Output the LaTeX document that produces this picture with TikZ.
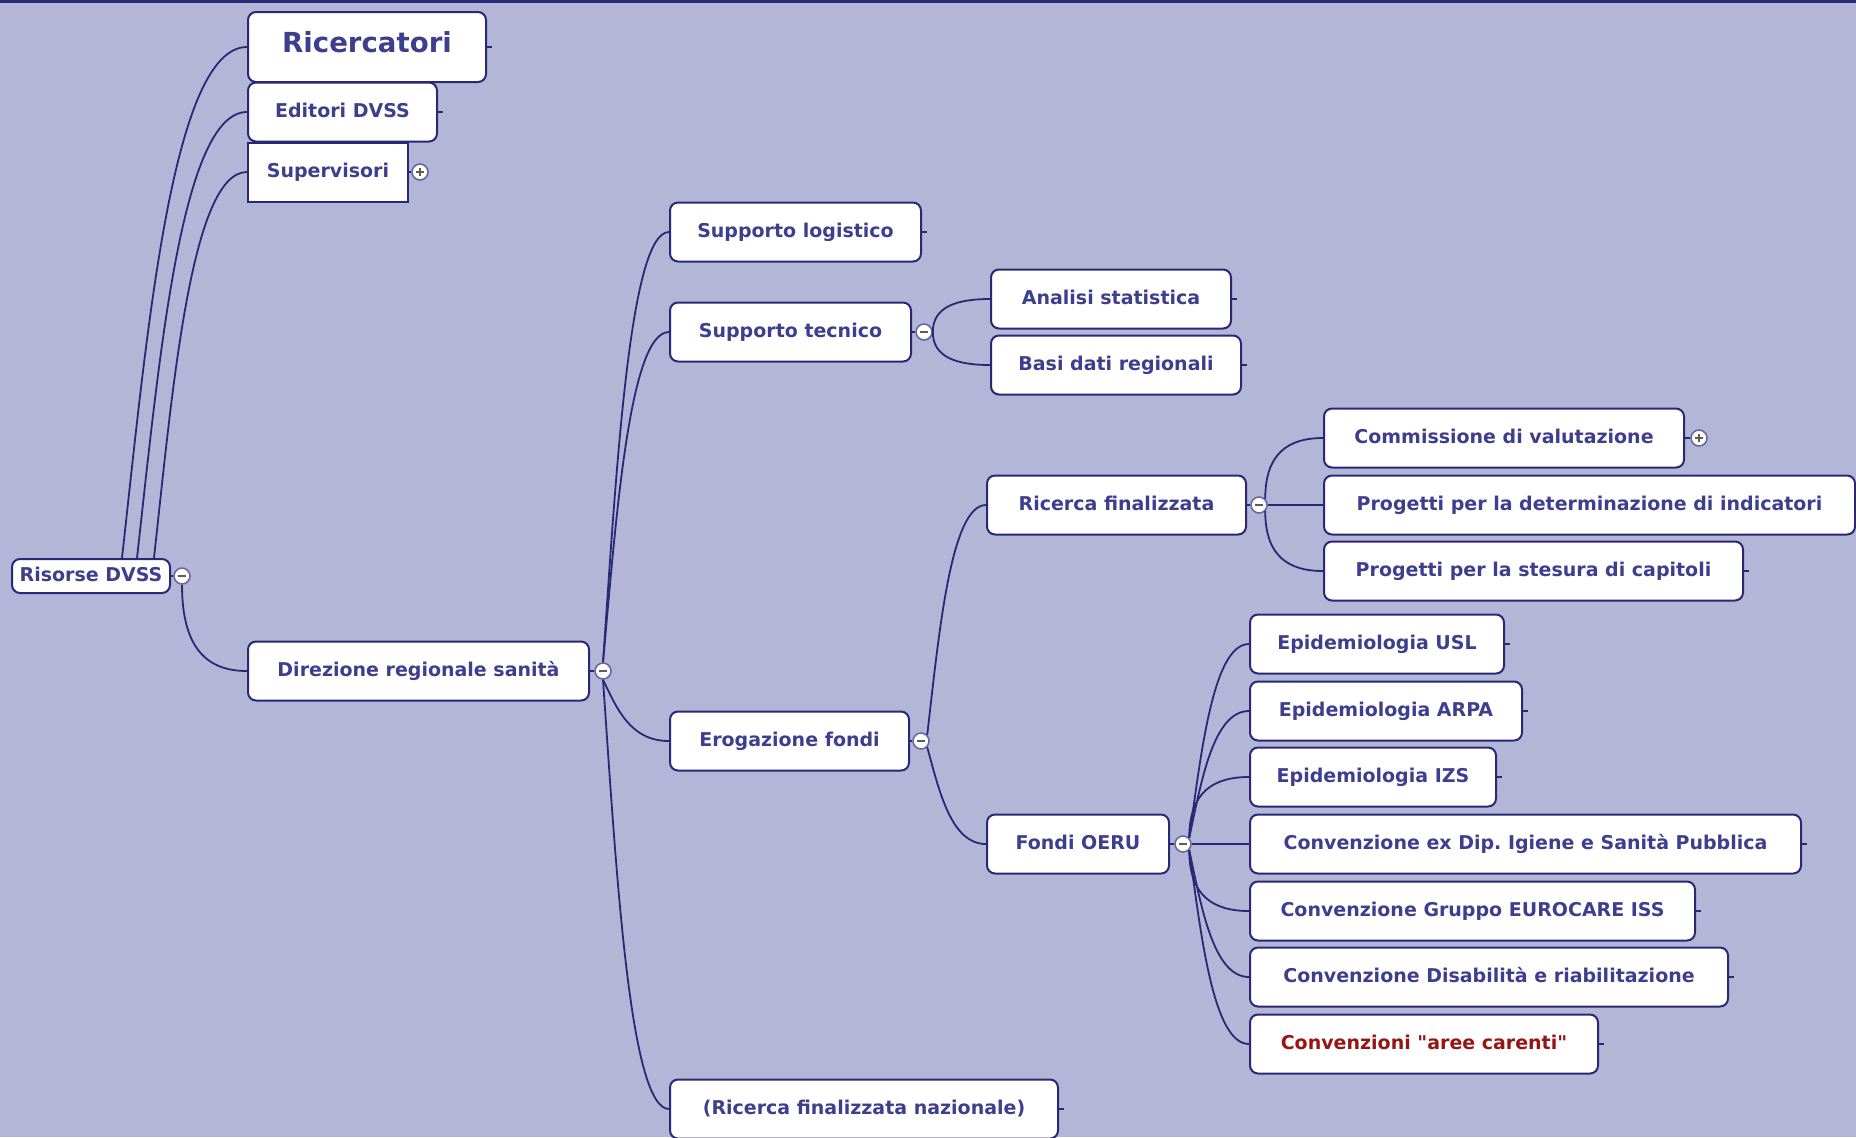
\documentclass[tikz,border=0pt]{standalone}
\usepackage{fontspec}
\setmainfont{DejaVu Sans}[Ligatures=TeXOff]
\usepackage{tikz}
\usetikzlibrary{calc}
\usetikzlibrary{positioning}

\definecolor{bgcol}{RGB}{180,182,216}
\definecolor{linecol}{RGB}{40,40,118}
\definecolor{textcol}{RGB}{62,62,142}
\definecolor{redcol}{RGB}{150,20,20}
\definecolor{signcol}{RGB}{90,96,80}

\tikzset{
  topic/.style={draw=linecol, line width=1pt, rounded corners=4pt, fill=white,
    text=textcol, font=\bfseries\fontsize{9.5}{11}\selectfont, anchor=west,
    minimum height=29.5pt, inner xsep=0pt, text height=0.73em, text depth=0.22em},
  tip/.style={circle, draw=linecol!70, line width=0.8pt, fill=white,
    inner sep=0pt, minimum size=8pt},
  minus/.style={tip, path picture={
    \draw[signcol, line width=1pt] ($(path picture bounding box.center)+(-4,0)$)
      -- ($(path picture bounding box.center)+(4,0)$);}},
  plus/.style={tip, path picture={
    \draw[signcol, line width=0.8pt] ($(path picture bounding box.center)+(-4,0)$)
      -- ($(path picture bounding box.center)+(4,0)$)
      ($(path picture bounding box.center)+(0,-4)$)
      -- ($(path picture bounding box.center)+(0,4)$);}},
  wire/.style={linecol, line width=0.9pt},
  branch/.style={to path={.. controls ($(\tikztostart)!0.75!(\tikztostart|-\tikztotarget)$)
    and ($(\tikztotarget)!0.6!(\tikztostart|-\tikztotarget)$) .. (\tikztotarget)}},
  fan/.style={to path={.. controls ($(\tikztostart)!0.3!(\tikztostart|-\tikztotarget)!0.2!(\tikztotarget)$)
    and ($(\tikztotarget)!0.6!(\tikztostart|-\tikztotarget)$) .. (\tikztotarget)}}
}

\begin{document}
\begin{tikzpicture}[x=0.5pt, y=-0.5pt]
  \useasboundingbox (0,0) rectangle (1856,1137);
  \fill[bgcol] (0,0) rectangle (1856,1137);
  \draw[linecol, line width=1.5pt] (0,1) -- (1856,1);

  % left side
  \node[topic, minimum height=17pt, minimum width=79pt] (ris) at (11,576) {Risorse DVSS};
  \node[topic, minimum height=35pt, minimum width=119pt,
    font=\bfseries\fontsize{13.8}{16}\selectfont] (ric) at (247,47) {Ricercatori};
  \node[topic, minimum width=94.5pt] (edi) at (247,112) {Editori DVSS};
  \node[topic, rounded corners=0pt, minimum width=80pt] (sup) at (247,172) {Supervisori};
  \node[topic, minimum width=170.5pt] (dir) at (247,671) {Direzione regionale sanità};

  % middle column
  \node[topic, minimum width=125.5pt] (slog) at (669,232) {Supporto logistico};
  \node[topic, minimum width=120.5pt] (stec) at (669,332) {Supporto tecnico};
  \node[topic, minimum width=119.5pt] (ero) at (669,741) {Erogazione fondi};
  \node[topic, minimum width=194pt] (rnaz) at (669,1109) {(Ricerca finalizzata nazionale)};

  \node[topic, minimum width=120pt] (ana) at (990,299) {Analisi statistica};
  \node[topic, minimum width=125pt] (basi) at (990,365) {Basi dati regionali};
  \node[topic, minimum width=129.5pt] (rfin) at (986,505) {Ricerca finalizzata};
  \node[topic, minimum width=91pt] (oeru) at (986,844) {Fondi OERU};

  % right column
  \node[topic, minimum width=180pt] (comm) at (1323,438) {Commissione di valutazione};
  \node[topic, minimum width=265.5pt] (pind) at (1323,505) {Progetti per la determinazione di indicatori};
  \node[topic, minimum width=209.5pt] (pcap) at (1323,571) {Progetti per la stesura di capitoli};

  \node[topic, minimum width=127pt] (eusl) at (1249,644) {Epidemiologia USL};
  \node[topic, minimum width=136pt] (earpa) at (1249,711) {Epidemiologia ARPA};
  \node[topic, minimum width=123pt] (eizs) at (1249,777) {Epidemiologia IZS};
  \node[topic, minimum width=275.5pt] (cdip) at (1249,844) {Convenzione ex Dip.\ Igiene e Sanità Pubblica};
  \node[topic, minimum width=222.5pt] (ceuro) at (1249,911) {Convenzione Gruppo EUROCARE ISS};
  \node[topic, minimum width=239pt] (cdis) at (1249,977) {Convenzione Disabilità e riabilitazione};
  \node[topic, minimum width=174pt, text=redcol] (care) at (1249,1044) {Convenzioni "aree carenti"};

  % expanders
  \node[minus] (risM) at (182,576) {};
  \node[plus] (supP) at (420,172) {};
  \node[minus] (dirM) at (603,671) {};
  \node[minus] (stecM) at (924,332) {};
  \node[minus] (eroM) at (921,741) {};
  \node[minus] (rfinM) at (1259,505) {};
  \node[plus] (commP) at (1699,438) {};
  \node[minus] (oeruM) at (1183,844) {};

  % connectors
  \draw[wire] (ris.east) -- (risM.west);
  \draw[wire] ($(ris.north west)+(111,0)$) to[fan] (ric.west);
  \draw[wire] ($(ris.north west)+(126,0)$) to[fan] (edi.west);
  \draw[wire] ($(ris.north west)+(143,0)$) to[fan] (sup.west);
  \draw[wire] (risM.south) to[branch] (dir.west);
  \draw[wire] (sup.east) -- (supP.west);

  \draw[wire] (dir.east) -- (dirM.west);
  \draw[wire] (dirM.north) to[fan] (slog.west);
  \draw[wire] (dirM.north) to[fan] (stec.west);
  \draw[wire] (dirM.south) to[fan] (ero.west);
  \draw[wire] (dirM.south) to[fan] (rnaz.west);

  \draw[wire] (stec.east) -- (stecM.west);
  \draw[wire] (stecM.east) to[branch] (ana.west);
  \draw[wire] (stecM.east) to[branch] (basi.west);

  \draw[wire] (ero.east) -- (eroM.west);
  \draw[wire] (eroM.north east) to[fan] (rfin.west);
  \draw[wire] (eroM.south east) to[fan] (oeru.west);

  \draw[wire] (rfin.east) -- (rfinM.west);
  \draw[wire] (rfinM.north east) to[branch] (comm.west);
  \draw[wire] (rfinM.east) -- (pind.west);
  \draw[wire] (rfinM.south east) to[branch] (pcap.west);
  \draw[wire] (comm.east) -- (commP.west);

  \draw[wire] (oeru.east) -- (oeruM.west);
  \draw[wire] (oeruM.north east) to[fan] (eusl.west);
  \draw[wire] (oeruM.north east) to[fan] (earpa.west);
  \draw[wire] (oeruM.north east) to[branch] (eizs.west);
  \draw[wire] (oeruM.east) -- (cdip.west);
  \draw[wire] (oeruM.south east) to[branch] (ceuro.west);
  \draw[wire] (oeruM.south east) to[fan] (cdis.west);
  \draw[wire] (oeruM.south east) to[fan] (care.west);

  % leaf stubs
  \draw[wire] (ric.east) -- +(5,0);
  \draw[wire] (edi.east) -- +(5,0);
  \draw[wire] (slog.east) -- +(5,0);
  \draw[wire] (ana.east) -- +(5,0);
  \draw[wire] (basi.east) -- +(5,0);
  \draw[wire] (pcap.east) -- +(5,0);
  \draw[wire] (eusl.east) -- +(5,0);
  \draw[wire] (earpa.east) -- +(5,0);
  \draw[wire] (eizs.east) -- +(5,0);
  \draw[wire] (cdip.east) -- +(5,0);
  \draw[wire] (ceuro.east) -- +(5,0);
  \draw[wire] (cdis.east) -- +(5,0);
  \draw[wire] (care.east) -- +(5,0);
  \draw[wire] (rnaz.east) -- +(5,0);
\end{tikzpicture}
\end{document}
